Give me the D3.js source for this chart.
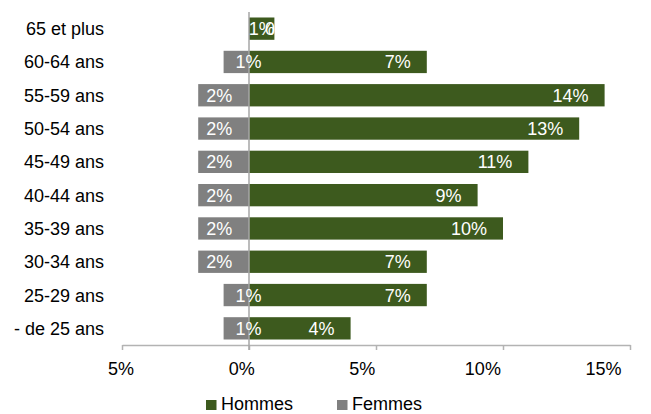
<!DOCTYPE html>
<html><head><meta charset="utf-8">
<script src="https://cdn.jsdelivr.net/npm/d3@7"></script>
<style>body{margin:0;background:#fff}svg{display:block;font-family:"Liberation Sans",Arial,sans-serif}</style>
</head><body><svg id="c" width="651" height="414"></svg>
<script>
const categories = ["65 et plus","60-64 ans","55-59 ans","50-54 ans","45-49 ans","40-44 ans","35-39 ans","30-34 ans","25-29 ans","- de 25 ans"];
const hommes = [1,7,14,13,11,9,10,7,7,4];
const femmes = [0,1,2,2,2,2,2,2,1,1];
const tickValues = [-5,0,5,10,15];
const seriesNames = ["Hommes","Femmes"];
const colors = {Hommes:"#3d5a1e", Femmes:"#808080"};

const svg = d3.select("#c");
const x = d3.scaleLinear().domain([-5,15]).range([122,630]);
const xLabel = d3.scaleLinear().domain([-5,15]).range([120.5,603]);
const y = d3.scaleBand().domain(categories).range([12,345]).paddingInner(0.33).paddingOuter(0.165);
const fs = 18;

// bars
svg.append("g").selectAll("rect").data(categories).join("rect")
  .attr("x",(d,i)=>x(-femmes[i])).attr("width",(d,i)=>x(0)-x(-femmes[i]))
  .attr("y",d=>y(d)).attr("height",y.bandwidth()).attr("fill",colors.Femmes);
svg.append("g").selectAll("rect").data(categories).join("rect")
  .attr("x",x(0)).attr("width",(d,i)=>x(hommes[i])-x(0))
  .attr("y",d=>y(d)).attr("height",y.bandwidth()).attr("fill",colors.Hommes);

// axis
const ax = svg.append("g").attr("transform","translate(0,345)")
  .call(d3.axisBottom(x).tickValues(tickValues).tickFormat(d=>Math.abs(d)+"%").tickSize(5).tickSizeOuter(0));
ax.select(".domain").attr("stroke","#b3b3b3").attr("stroke-width",1.5);
ax.selectAll(".tick line").attr("stroke","#b3b3b3").attr("stroke-width",1.5);
ax.selectAll(".tick text").attr("font-size",fs).attr("fill","#000")
  .attr("font-family","'Liberation Sans',Arial,sans-serif")
  .attr("dy",null).attr("y",30).attr("x",d=>xLabel(d)-x(d));

// zero line
svg.append("line").attr("x1",x(0)).attr("x2",x(0)).attr("y1",12).attr("y2",350)
  .attr("stroke","#a6a6a6").attr("stroke-width",1.5);

// category labels
svg.append("g").selectAll("text").data(categories).join("text")
  .attr("x",104).attr("y",d=>y(d)+y.bandwidth()/2+6.5)
  .attr("text-anchor","end").attr("font-size",fs).attr("fill","#000").text(d=>d);

// value labels
svg.append("g").selectAll("text").data(categories).join("text")
  .attr("x",(d,i)=>hommes[i]>1 ? x(hommes[i])-16 : (x(0)+x(hommes[i]))/2)
  .attr("text-anchor",(d,i)=>hommes[i]>1 ? "end" : "middle")
  .attr("y",d=>y(d)+y.bandwidth()/2+6.5)
  .attr("font-size",fs).attr("fill","#fff").text((d,i)=>hommes[i]+"%");
svg.append("g").selectAll("text").data(categories).join("text")
  .attr("x",(d,i)=>x(-femmes[i])+8+4*(2-femmes[i]))
  .attr("text-anchor","start")
  .attr("y",d=>y(d)+y.bandwidth()/2+6.5)
  .attr("font-size",fs).attr("fill","#fff").text((d,i)=>femmes[i]+"%");

// legend
const legX = [206,337];
const lg = svg.append("g").selectAll("g").data(seriesNames).join("g")
  .attr("transform",(d,i)=>`translate(${legX[i]},0)`);
lg.append("rect").attr("x",0).attr("y",400).attr("width",10.5).attr("height",10).attr("fill",d=>colors[d]);
lg.append("text").attr("x",15).attr("y",410).attr("font-size",fs).attr("fill","#000").text(d=>d);
</script></body></html>
